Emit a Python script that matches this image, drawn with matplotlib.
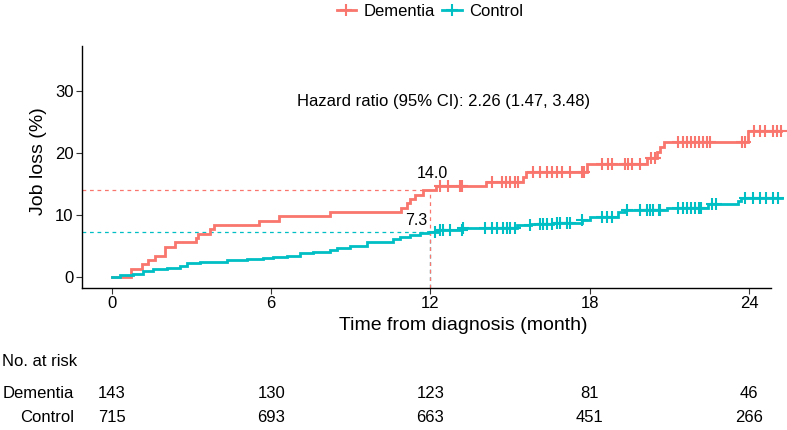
import numpy as np
import matplotlib
matplotlib.use("AGG")
import matplotlib.pyplot as plt
from matplotlib.lines import Line2D
from matplotlib.transforms import blended_transform_factory

plt.rcParams["font.family"] = ["Liberation Sans", "DejaVu Sans"]

RED = "#F8766D"
TEAL = "#00BFC4"

# cumulative job loss (%) step curves
dem_t = [0, 0.72, 1.12, 1.37, 1.62, 2.0, 2.37, 3.17, 3.25, 3.69, 3.84, 5.55, 6.3,
         8.2, 10.9, 11.1, 11.23, 11.42, 11.7, 12.2, 14.1, 15.5, 15.6, 17.9, 20.15,
         20.55, 20.65, 20.78, 23.98]
dem_v = [0, 1.4, 2.1, 2.8, 3.5, 4.9, 5.6, 6.3, 7.0, 7.7, 8.4, 9.1, 9.8,
         10.5, 11.2, 11.9, 12.6, 13.3, 14.0, 14.7, 15.4, 16.2, 17.0, 18.2, 19.2,
         20.1, 21.0, 21.8, 23.5]
dem_end = 25.2
dem_cens = [12.36, 12.66, 13.1, 13.2, 14.3, 14.7, 14.85, 15.0, 15.2, 15.3, 15.86,
            16.13, 16.38, 16.57, 16.75, 16.94, 17.25, 17.7, 17.8, 18.45, 18.7,
            18.83, 19.33, 19.46, 19.58, 19.9, 20.3, 20.45, 21.34, 21.53, 21.66,
            21.81, 21.97, 22.13, 22.28, 22.43, 22.53, 23.73, 23.85, 24.2, 24.4,
            24.6, 24.9, 25.05, 25.2]

ctl_t = [0, 0.3, 0.8, 1.17, 1.55, 2.06, 2.56, 2.81, 3.32, 4.32, 5.08, 5.7, 6.08,
         6.58, 7.08, 7.58, 8.2, 8.47, 8.97, 9.6, 10.6, 10.85, 11.23, 11.6, 11.9,
         12.3, 13.2, 15.25, 15.8, 16.6, 17.7, 18.0, 19.08, 19.33, 20.9, 22.47,
         23.6, 23.7]
ctl_v = [0, 0.3, 0.6, 1.0, 1.3, 1.55, 1.8, 2.35, 2.5, 2.78, 2.94, 3.05, 3.3,
         3.5, 3.85, 4.1, 4.4, 4.76, 5.08, 5.7, 6.1, 6.5, 6.8, 7.07, 7.3,
         7.6, 7.97, 8.4, 8.55, 8.7, 9.2, 9.75, 10.45, 10.9, 11.2, 11.8,
         12.3, 12.7]
ctl_end = 25.25
ctl_cens = [12.17, 12.36, 12.48, 12.74, 13.17, 13.24, 14.05, 14.3, 14.5, 14.74,
            14.87, 15.0, 15.18, 15.75, 16.13, 16.25, 16.38, 16.57, 16.75, 16.88,
            17.13, 17.25, 17.7, 18.45, 18.64, 18.83, 19.4, 19.9, 20.15, 20.27,
            20.4, 20.6, 20.65, 21.34, 21.5, 21.66, 21.8, 21.97, 22.13, 22.2, 22.6,
            22.75, 23.85, 24.16, 24.4, 24.66, 24.9, 25.1]

# landmark at 12 months
mark_t = 12
dem_mark = 14.0
ctl_mark = 7.3
hr_text = "Hazard ratio (95% CI): 2.26 (1.47, 3.48)"

# risk table
risk_times = [0, 6, 12, 18, 24]
risk_groups = ["Dementia", "Control"]
risk_dem = [143, 130, 123, 81, 46]
risk_ctl = [715, 693, 663, 451, 266]

XMIN, XMAX = -1.13, 24.83
YMIN, YMAX = -1.72, 37.2

fig = plt.figure(figsize=(7.87, 4.30), dpi=100)
# panel: x 82..771 px, y 46..288 px
ax = fig.add_axes([82 / 787, 1 - 288 / 430, (771 - 82) / 787, (288 - 46) / 430])
ax.set_xlim(XMIN, XMAX)
ax.set_ylim(YMIN, YMAX)


def draw_curve(t, v, end, cens, color):
    t = np.asarray(t)
    v = np.asarray(v)
    ax.step(np.append(t, end), np.append(v, v[-1]), where="post", color=color,
            lw=2.0, clip_on=False, zorder=3, solid_joinstyle="miter")
    c = np.asarray(cens)
    cv = v[np.searchsorted(t, c, side="right") - 1]
    ax.plot(c, cv, ls="none", marker="+", ms=8, mew=1.5, color=color,
            clip_on=False, zorder=4)


# dashed guide lines
dash = (0, (3, 3))
ax.hlines(ctl_mark, XMIN, mark_t, colors=TEAL, lw=0.9, linestyles=dash, zorder=2)
ax.vlines(mark_t, YMIN, ctl_mark, colors=TEAL, lw=0.9, linestyles=dash, zorder=2)
ax.hlines(dem_mark, XMIN, mark_t, colors=RED, lw=0.9, linestyles=dash, zorder=2)
ax.vlines(mark_t, YMIN, dem_mark, colors=RED, lw=0.9, linestyles=dash, zorder=2)

draw_curve(dem_t, dem_v, dem_end, dem_cens, RED)
draw_curve(ctl_t, ctl_v, ctl_end, ctl_cens, TEAL)

ax.text(mark_t + 0.08, dem_mark + 1.95, f"{dem_mark:.1f}", ha="center",
        va="baseline", fontsize=11.5)
ax.text(mark_t - 0.13, ctl_mark + 1.1, f"{ctl_mark:.1f}", ha="right",
        va="baseline", fontsize=11.5)
ax.text(12.5, 28.2, hr_text, ha="center", va="center", fontsize=12)

# axes styling
for s in ("top", "right"):
    ax.spines[s].set_visible(False)
ax.spines["bottom"].set_bounds(XMIN, XMAX)
for s in ("left", "bottom"):
    ax.spines[s].set_linewidth(1.0)
ax.set_xticks(risk_times)
ax.set_yticks([0, 10, 20, 30])
ax.tick_params(labelsize=12, length=4, width=0.8, color="#333333", pad=2)
ax.set_xlabel("Time from diagnosis (month)", fontsize=14)
ax.xaxis.set_label_coords((463 - 82) / 689, -0.118)
ax.set_ylabel("Job loss (%)", fontsize=14)
ax.yaxis.set_label_coords(-0.051, 0.525)

# legend
handles = [Line2D([], [], color=RED, lw=2, marker="+", ms=8, mew=1.5),
           Line2D([], [], color=TEAL, lw=2, marker="+", ms=8, mew=1.5)]
fig.legend(handles, risk_groups, loc="center", bbox_to_anchor=(430 / 787, 1 - 11 / 430),
           ncol=2, frameon=False, fontsize=12, handlelength=1.15,
           columnspacing=0.45, handletextpad=0.45, borderpad=0)

# number at risk table
tr = blended_transform_factory(ax.transData, fig.transFigure)
fs_tab = 12
fig.text(0.002, 1 - 362 / 430, "No. at risk", ha="left", va="center", fontsize=fs_tab)
for row, (name, vals) in enumerate(zip(risk_groups, [risk_dem, risk_ctl])):
    y = 1 - (393 + row * 25) / 430
    fig.text(74 / 787, y, name, ha="right", va="center", fontsize=fs_tab)
    for t, n in zip(risk_times, vals):
        ax.text(t, y, str(n), transform=tr, ha="center", va="center", fontsize=fs_tab)

fig.savefig("out.png", dpi=100)
